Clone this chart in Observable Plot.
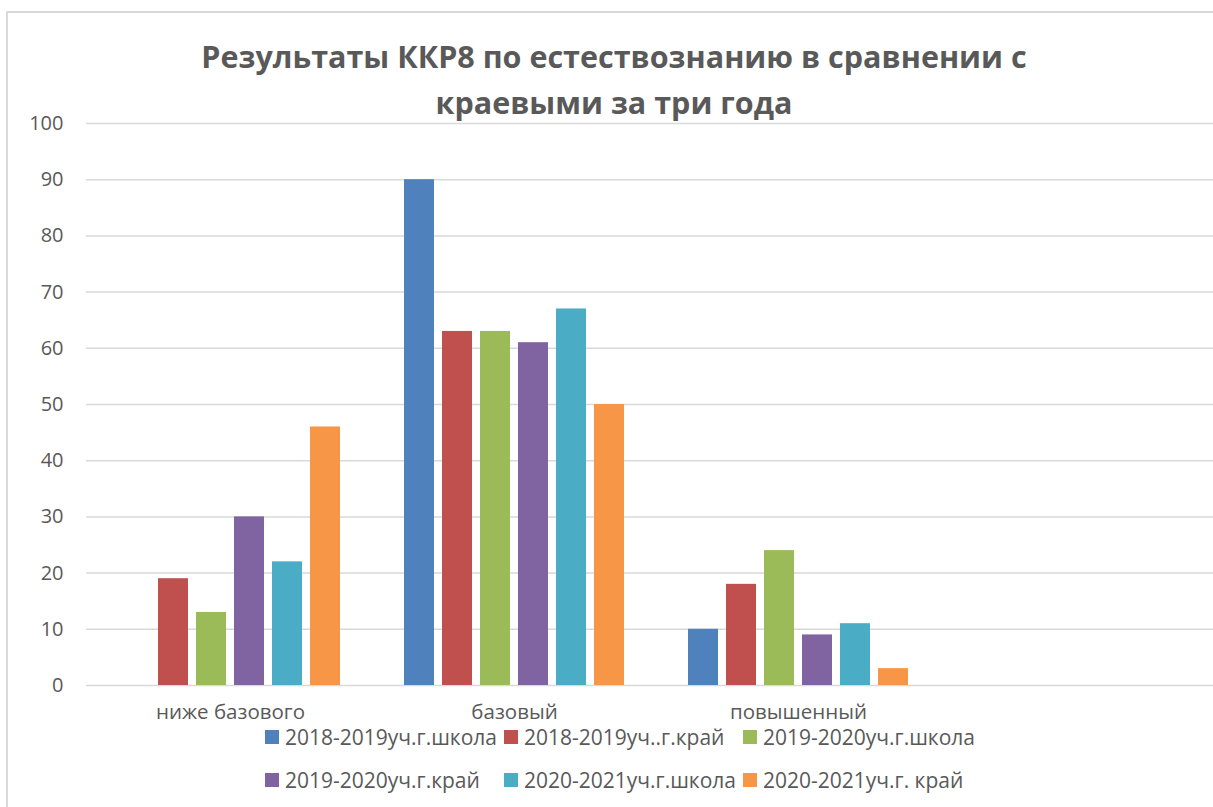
<!DOCTYPE html>
<html><head><meta charset="utf-8">
<script src="https://cdn.jsdelivr.net/npm/d3@7"></script>
<script src="https://cdn.jsdelivr.net/npm/@observablehq/plot@0.6"></script>
<style>
body{margin:0;background:#fff;}
#wrap{position:relative;width:1213px;height:807px;overflow:hidden;font-family:"Open Sans",sans-serif;color:#595959;background:#fff;}
#frame{position:absolute;left:6px;top:11px;width:1250px;height:850px;border:2px solid #d9d9d9;box-sizing:border-box;}
#title{position:absolute;left:6px;width:1216px;top:33px;text-align:center;font-weight:bold;font-size:30.5px;line-height:46px;font-family:"Open Sans",sans-serif;}
.layer{position:absolute;left:0;top:110px;}
#legend{position:absolute;left:265px;top:715px;display:grid;grid-template-columns:239px 239px auto;grid-auto-rows:43px;align-items:center;font-size:21px;line-height:22px;}
.item{display:flex;align-items:center;white-space:nowrap;}
.sw{width:14px;height:14px;margin-right:6px;flex:none;}
</style></head>
<body>
<div id="wrap">
  <div id="frame"></div>
  <div id="title">Результаты ККР8 по естествознанию в сравнении с<br>краевыми за три года</div>
  <div id="under" class="layer"></div>
  <div id="over" class="layer"></div>
  <div id="legend"></div>
</div>
<script>
const categories = ["ниже базового", "базовый", "повышенный"];
const series = ["2018-2019уч.г.школа", "2018-2019уч..г.край", "2019-2020уч.г.школа", "2019-2020уч.г.край", "2020-2021уч.г.школа", "2020-2021уч.г. край"];
const colors = ["#4F81BD", "#C0504D", "#9BBB59", "#8064A2", "#4BACC6", "#F79646"];
const school2018 = [null, 90, 10];
const region2018 = [19, 63, 18];
const school2019 = [13, 63, 24];
const region2019 = [30, 61, 9];
const school2020 = [22, 67, 11];
const region2020 = [46, 50, 3];
const yTicks = [0, 10, 20, 30, 40, 50, 60, 70, 80, 90, 100];

const seriesValues = [school2018, region2018, school2019, region2019, school2020, region2020];
const rows = [];
categories.forEach((c, ci) => series.forEach((s, si) => {
  const v = seriesValues[si][ci];
  if (v != null) rows.push({category: c, series: s, value: v});
}));

const common = {
  width: 1213, height: 620, marginTop: 13, marginBottom: 45, marginLeft: 86, marginRight: 0,
  style: {background: "transparent", fontFamily: "'Open Sans', sans-serif", fontSize: "20px", color: "#595959", overflow: "hidden"}
};

const under = Plot.plot({
  ...common,
  y: {domain: [0, 100], ticks: yTicks, tickSize: 0, tickPadding: 23, label: null},
  marks: [
    Plot.ruleY(yTicks, {stroke: "#d9d9d9", strokeWidth: 1.5})
  ]
});
document.getElementById("under").appendChild(under);

const over = Plot.plot({
  ...common,
  facet: {data: rows, x: "category"},
  fx: {domain: [...categories, ""], range: [87.5, 1223.5], padding: 0, axis: "bottom", tickSize: 0, tickPadding: 19, label: null},
  x: {domain: series, axis: null, paddingInner: 0.21, paddingOuter: 0.84},
  y: {domain: [0, 100], axis: null},
  color: {domain: series, range: colors},
  marks: [
    Plot.barY(rows, {x: "series", y: "value", fill: "series"})
  ]
});
over.querySelectorAll("g[aria-label='fx-axis'] text, g[aria-label='fx-axis tick label'] text").forEach(t => t.style.fontSize = "20.5px");
document.getElementById("over").appendChild(over);

const legend = document.getElementById("legend");
series.forEach((s, i) => {
  const it = document.createElement("div");
  it.className = "item";
  const sw = document.createElement("span");
  sw.className = "sw";
  sw.style.background = colors[i];
  const t = document.createElement("span");
  t.textContent = s;
  it.appendChild(sw); it.appendChild(t);
  legend.appendChild(it);
});
</script>
</body></html>
